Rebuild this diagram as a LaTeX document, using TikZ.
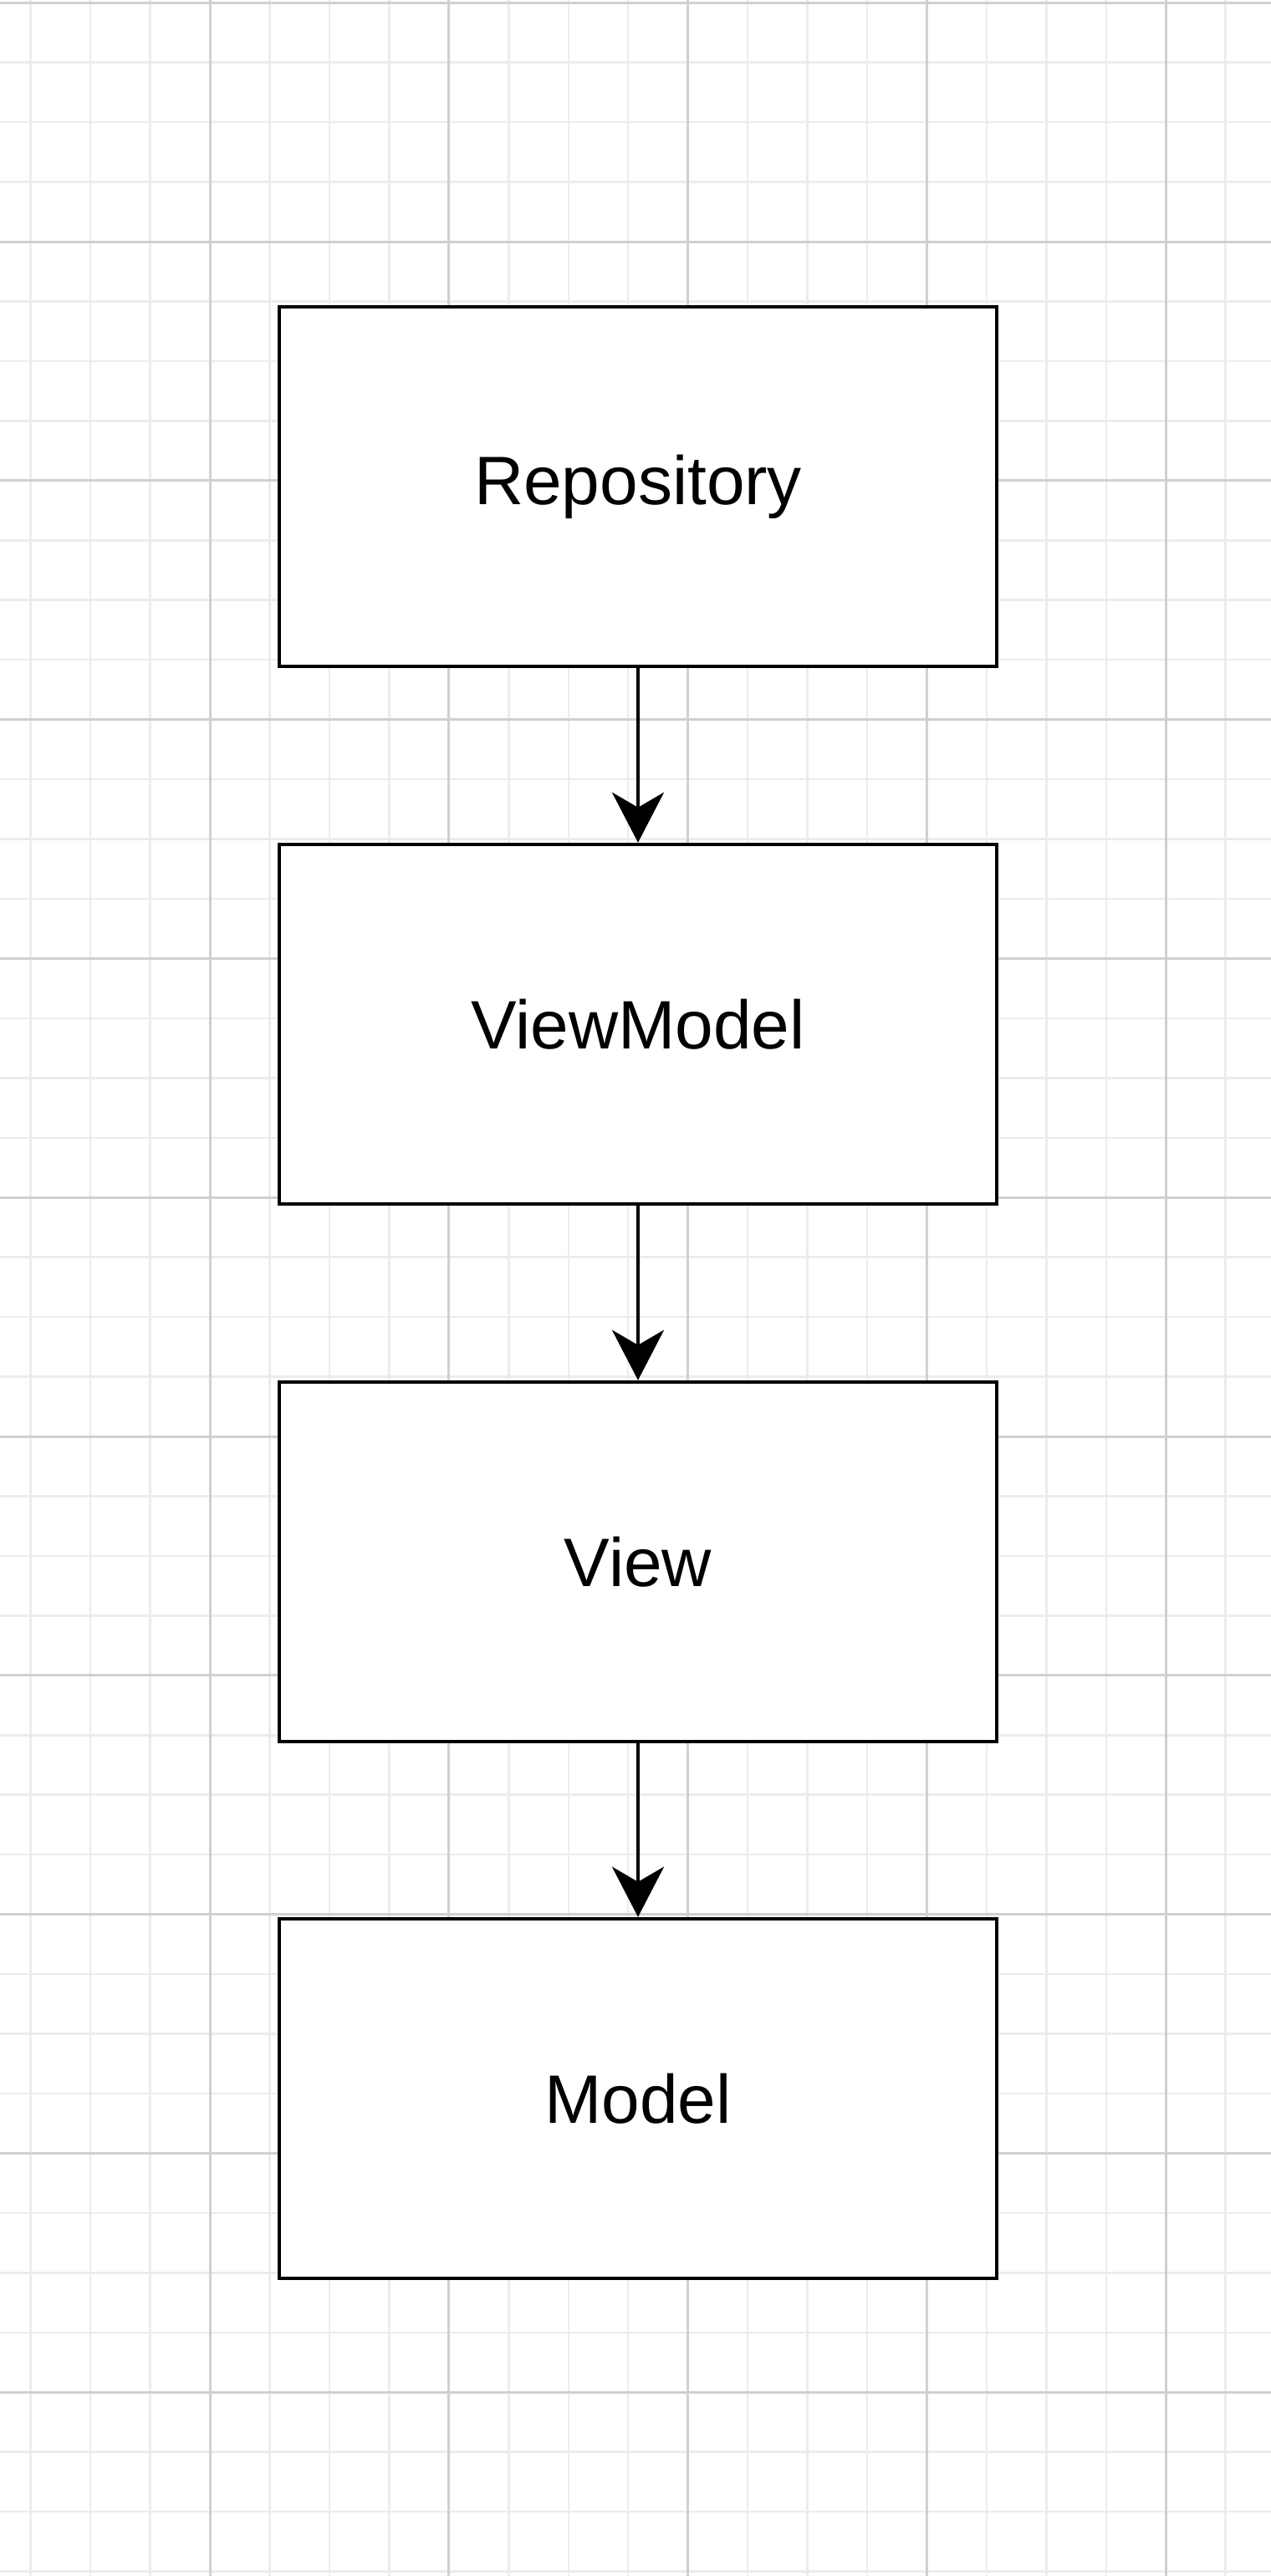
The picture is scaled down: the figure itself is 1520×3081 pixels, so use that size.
\documentclass[tikz,border=0pt]{standalone}
\usepackage{fontspec}
\setmainfont{Liberation Sans}
\usetikzlibrary{arrows.meta}
\begin{document}
\begin{tikzpicture}[x=1pt,y=-1pt,
  box/.style={draw=black,line width=4.5pt,fill=white,minimum width=858pt,minimum height=430pt,inner sep=0pt,font=\fontsize{82}{98}\selectfont},
  conn/.style={line width=4.5pt,-{Stealth[length=60pt,width=62pt,inset=18pt]}},
  minor/.style={draw={rgb,255:red,236;green,236;blue,236},line width=2.5pt},
  major/.style={draw={rgb,255:red,208;green,208;blue,208},line width=3pt}]
\useasboundingbox (0,0) rectangle (1520,3081);
\fill[white] (0,0) rectangle (1520,3081);
\foreach \i in {0,...,21} {\pgfmathsetmacro\xx{36.7+71.45*\i}\draw[minor] (\xx,0) -- (\xx,3081);}
\foreach \i in {0,...,43} {\pgfmathsetmacro\yy{3.2+71.45*\i}\draw[minor] (0,\yy) -- (1520,\yy);}
\foreach \i in {0,...,5} {\pgfmathsetmacro\xx{251+285.8*\i-285.8}\draw[major] (\xx,0) -- (\xx,3081);}
\foreach \i in {0,...,10} {\pgfmathsetmacro\yy{3.2+285.8*\i}\draw[major] (0,\yy) -- (1520,\yy);}
\node[box] (repo) at (763,582) {Repository};
\node[box] (vm) at (763,1225) {ViewModel};
\node[box] (view) at (763,1868) {View};
\node[box] (model) at (763,2510) {Model};
\draw[conn] (repo) -- (vm);
\draw[conn] (vm) -- (view);
\draw[conn] (view) -- (model);
\end{tikzpicture}
\end{document}
